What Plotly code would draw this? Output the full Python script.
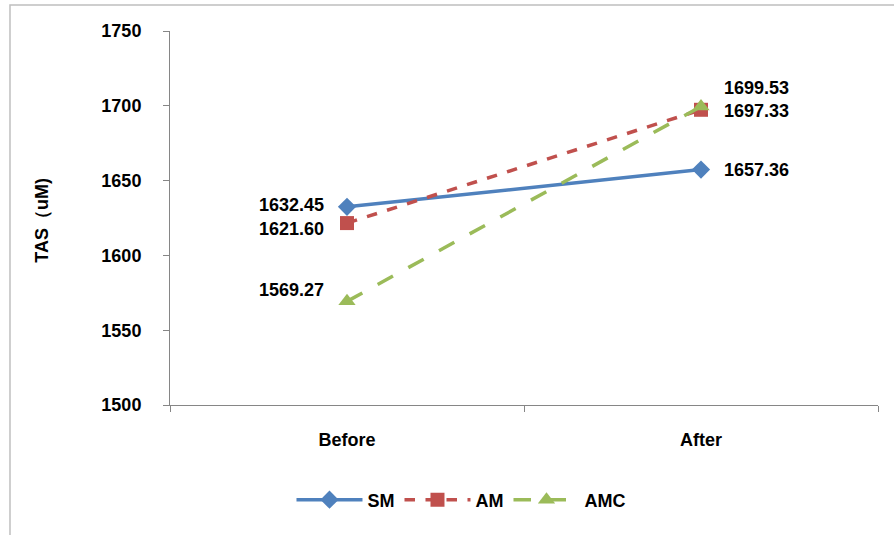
import plotly.graph_objects as go

# Total antioxidant status before and after the intervention
periods = ["Before", "After"]
sm_values = [1632.45, 1657.36]
am_values = [1621.60, 1697.33]
amc_values = [1569.27, 1699.53]

FONT = "Liberation Sans, Arial, sans-serif"
AXIS_GRAY = "#868686"


def bold(size):
    return dict(family=FONT, size=size, color="#000000", weight="bold")


series = [
    dict(name="SM", y=sm_values, color="#4F81BD", dash="solid", symbol="diamond", size=14),
    dict(name="AM", y=am_values, color="#C0504D", dash="dash", symbol="square", size=14),
    dict(name="AMC", y=amc_values, color="#9BBB59", dash="longdash", symbol="triangle-up", size=15),
]

fig = go.Figure()
for s in series:
    fig.add_trace(go.Scatter(
        x=periods, y=s["y"], name=s["name"], mode="lines+markers",
        line=dict(color=s["color"], width=3.5, dash=s["dash"]),
        marker=dict(symbol=s["symbol"], size=s["size"], color=s["color"]),
    ))

# value labels: pixel offsets from each point
label_offsets = {
    "SM": [(-21, 2), (21, 0)],
    "AM": [(-21, -6), (21, -1)],
    "AMC": [(-21, 11), (21, 19)],
}
for s in series:
    for i, (dx, dy) in enumerate(label_offsets[s["name"]]):
        fig.add_annotation(
            x=periods[i], y=s["y"][i], text=f"{s['y'][i]:.2f}",
            showarrow=False, xshift=dx, yshift=dy,
            xanchor="right" if dx < 0 else "left", yanchor="middle",
            font=bold(18),
        )

# y-axis title
fig.add_annotation(
    x=-0.181, y=0.495, xref="paper", yref="paper", text="TAS（uM)",
    textangle=-90, showarrow=False, xanchor="center", yanchor="middle",
    font=bold(18),
)

# chart outer border
fig.add_shape(
    type="rect", xref="paper", yref="paper",
    x0=-0.226, x1=1.2, y0=-0.6, y1=1.0695,
    line=dict(color="#BFBFBF", width=1.5), fillcolor="rgba(0,0,0,0)", layer="below",
)

fig.update_layout(
    width=894, height=535,
    margin=dict(l=170, r=16, t=31, b=130),
    paper_bgcolor="white", plot_bgcolor="white",
    font=bold(18),
    showlegend=True,
    legend=dict(
        orientation="h", x=0.411, y=-0.254, xanchor="center", yanchor="middle",
        font=bold(18), itemwidth=66, tracegroupgap=0,
    ),
    xaxis=dict(
        type="category", tickson="boundaries", range=[-0.5, 1.5],
        showgrid=False, zeroline=False,
        showline=True, linecolor=AXIS_GRAY, linewidth=1,
        ticks="outside", ticklen=6, tickcolor=AXIS_GRAY,
        tickfont=bold(18), ticklabelstandoff=18,
    ),
    yaxis=dict(
        range=[1500, 1750], dtick=50, showgrid=False, zeroline=False,
        showline=True, linecolor=AXIS_GRAY, linewidth=1,
        ticks="outside", ticklen=6, tickcolor=AXIS_GRAY,
        tickfont=bold(18), ticklabelstandoff=18,
    ),
)

fig.write_html("out.html")
